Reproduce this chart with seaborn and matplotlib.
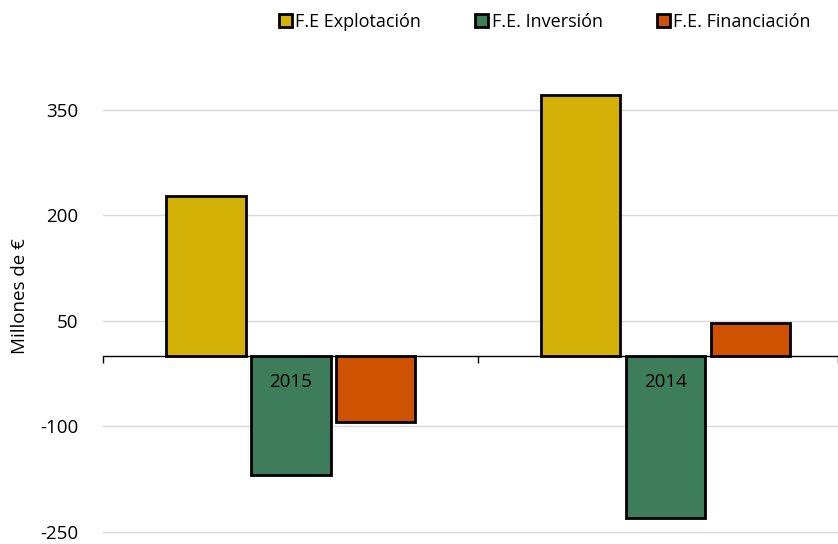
import seaborn as sns
import pandas as pd
import matplotlib.pyplot as plt
from matplotlib.ticker import FixedLocator

anios = ['2015', '2014']
series = ['F.E Explotación', 'F.E. Inversión', 'F.E. Financiación']
explotacion = [228, 371]
inversion = [-169, -230]
financiacion = [-94, 47]
colores = ['#D4B106', '#3E7D5A', '#CF5200']

rows = []
for i, a in enumerate(anios):
    rows.append((a, series[0], explotacion[i]))
    rows.append((a, series[1], inversion[i]))
    rows.append((a, series[2], financiacion[i]))
df = pd.DataFrame(rows, columns=['anio', 'serie', 'valor'])

sns.set_style('white')
plt.rcParams['font.family'] = ['Open Sans', 'DejaVu Sans']
plt.rcParams['axes.unicode_minus'] = False
plt.rcParams['text.color'] = 'black'
plt.rcParams['axes.labelcolor'] = 'black'

fig = plt.figure(figsize=(8.38, 5.44), dpi=100)
ax = fig.add_axes([0.123, 0.0092, 0.877, 0.892])

sns.barplot(data=df, x='anio', y='valor', hue='serie', order=anios, hue_order=series,
            palette=colores, width=0.68, gap=0.06, edgecolor='black', linewidth=2,
            saturation=1, ax=ax, legend=True)

ax.set_ylim(-260, 430)
ax.set_xlim(-0.5, 1.46)
ax.set_yticks([-250, -100, 50, 200, 350])
ax.yaxis.grid(True, color='#D9D9D9', linewidth=1)
ax.set_axisbelow(True)
ax.xaxis.set_zorder(5)
for s in ['left', 'right', 'top']:
    ax.spines[s].set_visible(False)
ax.spines['bottom'].set_position(('data', 0))
ax.spines['bottom'].set_color('black')
ax.spines['bottom'].set_linewidth(1)
ax.spines['bottom'].set_zorder(5)
ax.tick_params(axis='y', length=0, labelsize=13.5, pad=18, labelcolor='black')
ax.tick_params(axis='x', which='major', bottom=False, length=0, labelsize=13.5, pad=12,
               labelcolor='black')
ax.xaxis.set_minor_locator(FixedLocator([-0.5, 0.5, 1.46]))
ax.tick_params(axis='x', which='minor', bottom=True, length=5, width=1, color='black',
               direction='out')
ax.set_xlabel('')
ax.set_ylabel('Millones de €', fontsize=13.5, labelpad=8)

leg = ax.legend(loc='upper right', bbox_to_anchor=(0.98, 1.111), ncol=3, frameon=False,
                fontsize=13, handlelength=0.7, handleheight=0.7, handletextpad=0.2,
                columnspacing=3.0, borderaxespad=0.3)

plt.savefig('out.png', dpi=100)
